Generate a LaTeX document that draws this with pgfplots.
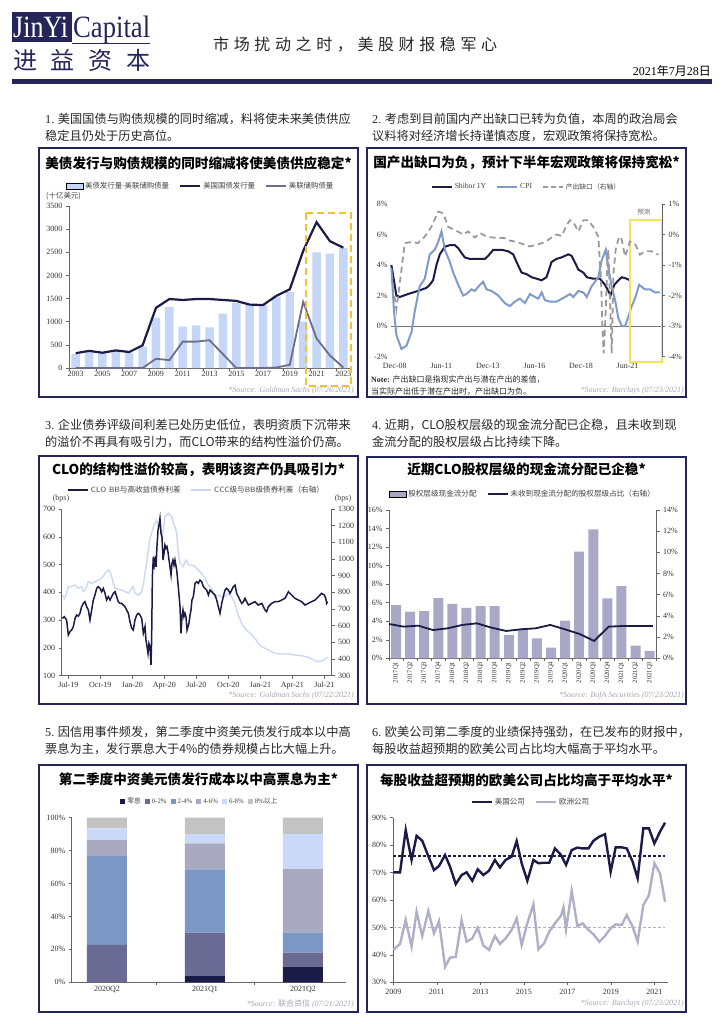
\documentclass[border=0pt]{standalone}
\usepackage{fontspec}
\setmainfont{Liberation Serif}
\newfontfamily\cjk{Noto Sans CJK SC}
\usepackage{pgfplots}
\pgfplotsset{compat=1.18}
\usepackage{graphicx}

\definecolor{navy}{HTML}{25255A}
\definecolor{dnavy}{HTML}{1B1B45}
\definecolor{barblue}{HTML}{C6D6F6}
\definecolor{fedgray}{HTML}{6E6E8C}
\definecolor{cpiblue}{HTML}{7F9BC9}
\definecolor{gapgray}{HTML}{9A9A9A}
\definecolor{lightline}{HTML}{C9D9F2}
\definecolor{barpurple}{HTML}{A9A9C7}
\definecolor{eugray}{HTML}{AFAFC7}
\definecolor{srcgray}{HTML}{A4A4B8}
\definecolor{gold}{HTML}{F2C12E}
\definecolor{yel}{HTML}{F3E25A}
\definecolor{sa}{HTML}{1B1B48}
\definecolor{sb}{HTML}{6A6A95}
\definecolor{sc}{HTML}{7B98C5}
\definecolor{sd}{HTML}{A9A9C0}
\definecolor{se}{HTML}{C9D9F7}
\definecolor{sf}{HTML}{C3C3C3}

\pgfplotsset{
  myax/.style={
    scale only axis, anchor=south west,
    tick label style={font=\fontsize{8}{9}\selectfont, text=black!80},
    /pgf/number format/assume math mode=true,
    /pgf/number format/1000 sep={},
    tick align=outside, major tick length=3pt,
    every tick/.append style={black!60, line width=0.5pt},
    axis line style={black!60, line width=0.6pt},
    legend style={draw=none, fill=none, font=\fontsize{7.6}{8}\selectfont, text=black!75,
      legend columns=-1, /tikz/every even column/.append style={column sep=8pt}, inner sep=1pt},
    legend cell align=left,
    legend image code/.code={\draw[##1] (0pt,0pt) -- (20pt,0pt);},
    clip=false,
  },
  sqleg/.style={legend image code/.code={\fill[##1] (0pt,-2.5pt) rectangle (5pt,2.5pt);}},
}

\newcommand\src[3]{\node[anchor=east, inner sep=0, text=srcgray, font=\itshape\fontsize{8}{9}\selectfont] at (#1,#2) {#3};}
\newcommand\ttl[3]{\node[inner sep=0, text=black, font=\cjk\bfseries\fontsize{13.6}{16}\selectfont] at (#1,#2) {#3};}
\newcommand\hd[3]{\node[anchor=west, inner sep=0, text=black!85, font=\cjk\fontsize{12.2}{13}\selectfont] at (#1,#2) {#3};}

\begin{document}
\begin{tikzpicture}[x=1pt,y=1pt]
\path[use as bounding box] (0,0) rectangle (724,-1024);

% ---------- header ----------
\fill[navy] (12,-12) rectangle (72,-42);
\node[anchor=base west, inner sep=0, text=white, font=\fontsize{31}{31}\selectfont] at (13,-38) {\scalebox{0.84}[1]{JinYi}};
\node[anchor=base west, inner sep=0, text=navy, font=\fontsize{31}{31}\selectfont] at (73,-38) {\scalebox{0.86}[1]{Capital}};
\draw[navy, line width=0.8pt] (72,-43) -- (150,-43);
\node[anchor=west, inner sep=0, text=navy, font=\cjk\fontsize{24}{24}\selectfont] at (13,-60) {\makebox[137pt][s]{进\hfill 益\hfill 资\hfill 本}};
\node[anchor=west, inner sep=0, text=black!85, font=\cjk\fontsize{16}{16}\selectfont] at (213,-45) {\makebox[284pt][s]{市\hfill 场\hfill 扰\hfill 动\hfill 之\hfill 时\hfill ，\hfill 美\hfill 股\hfill 财\hfill 报\hfill 稳\hfill 军\hfill 心}};
\node[anchor=east, inner sep=0, font=\fontsize{12}{12}\selectfont] at (711,-71) {2021{\cjk 年}7{\cjk 月}28{\cjk 日}};
\fill[navy] (12,-79) rectangle (712,-84);

% ---------- headings ----------
\hd{45}{-119}{{\rmfamily 1.} 美国国债与购债规模的同时缩减，料将使未来美债供应}
\hd{45}{-136}{稳定且仍处于历史高位。}
\hd{372}{-119}{{\rmfamily 2.} 考虑到目前国内产出缺口已转为负值，本周的政治局会}
\hd{372}{-136}{议料将对经济增长持谨慎态度，宏观政策将保持宽松。}
\hd{45}{-425}{{\rmfamily 3.} 企业债券评级间利差已处历史低位，表明资质下沉带来}
\hd{45}{-442}{的溢价不再具有吸引力，而CLO带来的结构性溢价仍高。}
\hd{372}{-425}{{\rmfamily 4.} 近期，CLO股权层级的现金流分配已企稳，且未收到现}
\hd{372}{-442}{金流分配的股权层级占比持续下降。}
\hd{45}{-732}{{\rmfamily 5.} 因信用事件频发，第二季度中资美元债发行成本以中高}
\hd{45}{-749}{票息为主，发行票息大于4\%的债券规模占比大幅上升。}
\hd{372}{-732}{{\rmfamily 6.} 欧美公司第二季度的业绩保持强劲，在已发布的财报中，}
\hd{372}{-749}{每股收益超预期的欧美公司占比均大幅高于平均水平。}

% ---------- boxes ----------
\draw[navy, line width=2pt] (39,-148) rectangle (358,-397);
\draw[navy, line width=2pt] (367,-148) rectangle (686,-397);
\draw[navy, line width=2pt] (39,-456) rectangle (358,-704);
\draw[navy, line width=2pt] (367,-457) rectangle (686,-704);
\draw[navy, line width=2pt] (39,-765) rectangle (358,-1011.5);
\draw[navy, line width=2pt] (367,-765) rectangle (686,-1011.5);

\ttl{198.5}{-163}{美债发行与购债规模的同时缩减将使美债供应稳定*}
\ttl{526.5}{-163}{国产出缺口为负，预计下半年宏观政策将保持宽松*}
\ttl{198.5}{-470}{CLO的结构性溢价较高，表明该资产仍具吸引力*}
\ttl{526.5}{-469}{近期CLO股权层级的现金流分配已企稳*}
\ttl{198.5}{-779}{第二季度中资美元债发行成本以中高票息为主*}
\ttl{526.5}{-780}{每股收益超预期的欧美公司占比均高于平均水平*}

% ---------- chart 1 ----------
\begin{axis}[myax, at={(69pt,-368pt)}, width=281pt, height=162pt,
  xmin=2002.5, xmax=2023.5, ymin=0, ymax=3500,
  axis x line*=bottom, axis y line*=left, xtick pos=bottom, ytick pos=left,
  ytick={0,500,...,3500},
  xtick={2002.5,2004.5,...,2022.5}, xticklabels={},
  extra x ticks={2003,2005,...,2023},
  extra x tick labels={2003,2005,2007,2009,2011,2013,2015,2017,2019,2021,2023},
  extra x tick style={major tick length=0pt},
  legend style={at={(0.5,1)}, anchor=center, yshift=20pt, xshift=-9pt, font=\cjk\fontsize{7.4}{8}\selectfont}]
\addplot[ybar, bar width=8.5pt, fill=barblue, draw=none, area legend] coordinates {
 (2003,300) (2004,350) (2005,320) (2006,370) (2007,330) (2008,460) (2009,1090) (2010,1320)
 (2011,895) (2012,920) (2013,880) (2014,1175) (2015,1410) (2016,1370) (2017,1360) (2018,1540)
 (2019,1640) (2020,1000) (2021,2500) (2022,2470) (2023,2590)};
\addlegendentry{美债发行量-美联储购债量}
\addplot[dnavy, line width=2.2pt] coordinates {
 (2003,320) (2004,370) (2005,330) (2006,380) (2007,345) (2008,490) (2009,1300) (2010,1490)
 (2011,1470) (2012,1490) (2013,1490) (2014,1470) (2015,1450) (2016,1370) (2017,1360) (2018,1560)
 (2019,1700) (2020,2530) (2021,3150) (2022,2740) (2023,2600)};
\addlegendentry{美国国债发行量}
\addplot[fedgray, line width=1.8pt] coordinates {
 (2003,0) (2004,0) (2005,0) (2006,0) (2007,0) (2008,0) (2009,200) (2010,170)
 (2011,570) (2012,570) (2013,600) (2014,300) (2015,0) (2016,0) (2017,0) (2018,10)
 (2019,70) (2020,1430) (2021,640) (2022,270) (2023,10)};
\addlegendentry{美联储购债量}
\draw[gold, line width=2pt, dash pattern=on 7pt off 4pt] (axis cs:2020.21,3350) rectangle (axis cs:2023.57,-390);
\end{axis}
\node[anchor=west, inner sep=0, text=black!75, font=\cjk\fontsize{7.4}{8}\selectfont] at (46,-196) {(十亿美元)};
\src{354}{-391}{*Source: Goldman Sachs (07/26/2021)}

% ---------- chart 2 ----------
\begin{axis}[myax, at={(391pt,-356.5pt)}, width=271pt, height=152.5pt,
  xmin=2008.72, xmax=2023.27, ymin=-2, ymax=8,
  axis x line*=bottom, axis y line*=left, xtick pos=bottom, ytick pos=left,
  axis line style={draw=none}, major tick length=0pt,
  ytick={-2,0,...,8}, yticklabels={-2\%,0\%,2\%,4\%,6\%,8\%},
  xtick={2008.92,2011.42,2013.92,2016.42,2018.92,2021.42},
  xticklabels={Dec-08,Jun-11,Dec-13,Jun-16,Dec-18,Jun-21},
  xticklabel style={yshift=-3pt},
  legend style={at={(0.5,1)}, anchor=center, yshift=17pt}]
\draw[black!55, line width=0.6pt] (axis cs:2008.72,0) -- (axis cs:2023.27,0);
\addplot[dnavy, line width=2pt] coordinates {
 (2008.74,4.0) (2009.01,2.0) (2009.19,1.9) (2009.64,2.1) (2010.17,2.3) (2010.62,2.5) (2010.80,2.7)
 (2010.98,3.0) (2011.16,4.0) (2011.34,4.7) (2011.61,5.2) (2011.88,5.3) (2012.15,5.3) (2012.33,5.1)
 (2012.50,4.8) (2012.68,4.5) (2012.95,4.4) (2013.49,4.4) (2013.76,4.4) (2013.94,4.6) (2014.21,5.0)
 (2014.65,5.0) (2015.01,4.9) (2015.28,4.7) (2015.46,4.2) (2015.73,3.5) (2016.00,3.4) (2016.27,3.2)
 (2016.54,3.1) (2016.81,3.0) (2017.07,3.2) (2017.34,4.2) (2017.61,4.4) (2017.88,4.5) (2018.24,4.7)
 (2018.42,4.6) (2018.78,3.7) (2019.05,3.5) (2019.23,3.2) (2019.58,3.1) (2019.94,3.1) (2020.21,2.7)
 (2020.51,2.0) (2020.71,2.7) (2020.93,3.0) (2021.11,3.2) (2021.38,3.1) (2021.55,3.0)};
\addlegendentry{Shibor 1Y}
\addplot[cpiblue, line width=2pt] coordinates {
 (2008.74,3.8) (2008.88,1.0) (2009.01,-0.6) (2009.28,-1.5) (2009.55,-1.3) (2009.82,-0.4) (2010.00,1.0)
 (2010.26,2.6) (2010.53,3.1) (2010.80,4.7) (2011.07,5.0) (2011.25,5.5) (2011.43,6.2) (2011.61,5.0)
 (2011.88,4.2) (2012.06,3.5) (2012.33,2.7) (2012.59,2.0) (2012.77,2.1) (2013.04,2.4) (2013.22,2.3)
 (2013.49,2.7) (2013.67,2.9) (2013.85,2.4) (2014.12,2.3) (2014.48,2.0) (2014.83,1.5) (2015.10,1.3)
 (2015.37,1.6) (2015.64,1.8) (2015.91,1.5) (2016.18,2.1) (2016.45,1.9) (2016.63,1.8) (2016.81,2.2)
 (2016.98,1.7) (2017.25,1.6) (2017.61,1.6) (2018.06,1.9) (2018.33,2.1) (2018.51,1.9) (2018.78,2.3)
 (2019.05,2.2) (2019.23,1.9) (2019.49,2.6) (2019.67,2.9) (2019.85,3.2) (2020.03,4.3) (2020.25,5.0)
 (2020.39,3.8) (2020.57,2.6) (2020.75,1.7) (2020.93,0.5) (2021.11,0.0) (2021.29,0.0) (2021.46,0.6)
 (2021.64,1.3) (2021.82,1.8) (2022.04,2.7) (2022.36,2.4) (2022.63,2.4) (2022.90,2.2) (2023.17,2.2)};
\addlegendentry{CPI}
\addlegendimage{gapgray, line width=1.8pt, dash pattern=on 5pt off 3pt}
\addlegendentry{{\cjk\fontsize{6.8}{8}\selectfont 产出缺口（右轴）}}
\draw[yel, line width=1.8pt] (axis cs:2021.55,6.95) rectangle (axis cs:2023.27,-2.36);
\node[text=black!60, font=\cjk\fontsize{6.5}{7}\selectfont] at (axis cs:2022.3,7.45) {预测};
\end{axis}
\begin{axis}[myax, at={(391pt,-356.5pt)}, width=271pt, height=152.5pt,
  xmin=2008.72, xmax=2023.27, ymin=-4, ymax=1,
  axis y line*=right, axis x line=none, ytick pos=right,
  ytick={-4,-3,...,1}, yticklabels={-4\%,-3\%,-2\%,-1\%,0\%,1\%}]
\addplot[gapgray, line width=1.8pt, dash pattern=on 6pt off 4pt] coordinates {
 (2008.83,-1.7) (2009.01,-2.45) (2009.19,-1.6) (2009.46,-0.28) (2009.82,-0.25) (2010.17,-0.28)
 (2010.53,-0.07) (2010.89,0.25) (2011.25,0.75) (2011.52,0.7) (2011.79,0.25) (2012.15,0.15)
 (2012.59,0.0) (2012.86,0.1) (2013.22,-0.1) (2013.49,0.05) (2013.85,-0.07) (2014.21,-0.1)
 (2014.83,-0.12) (2015.10,-0.2) (2015.37,-0.23) (2015.73,-0.3) (2016.18,-0.39) (2016.54,-0.34)
 (2016.98,-0.25) (2017.34,-0.1) (2017.61,0.0) (2017.88,-0.05) (2018.15,0.3) (2018.33,0.47)
 (2018.51,0.4) (2018.78,0.1) (2019.05,0.47) (2019.31,0.47) (2019.58,0.25) (2019.85,-0.07)
 (2019.99,-1.4) (2020.07,-3.0) (2020.14,-3.9) (2020.25,-2.5) (2020.34,-0.9) (2020.39,-0.5)
 (2020.48,-2.2) (2020.57,-3.9) (2020.66,-1.3) (2020.78,-0.5) (2020.93,-0.15) (2021.07,-0.07)
 (2021.29,-0.72) (2021.55,-0.23) (2021.82,-0.3) (2022.09,-0.66) (2022.36,-0.55) (2022.72,-0.55)
 (2023.08,-0.66)};
\end{axis}
\node[anchor=west, inner sep=0, text=black!85, font=\fontsize{8}{9}\selectfont] at (371,-380) {\textbf{Note:} {\cjk 产出缺口是指现实产出与潜在产出的差值，}};
\node[anchor=west, inner sep=0, text=black!85, font=\cjk\fontsize{8}{9}\selectfont] at (371,-392) {当实际产出低于潜在产出时，产出缺口为负。};
\src{684}{-391}{*Source: Barclays (07/23/2021)}

% ---------- chart 3 ----------
\begin{axis}[myax, at={(61.7pt,-675.5pt)}, width=270pt, height=166.5pt,
  xmin=-0.62, xmax=24.69, ymin=300, ymax=1300,
  axis y line*=right, axis x line=none, ytick pos=right,
  ytick={300,400,...,1300}]
\addplot[lightline, line width=1.4pt] coordinates {
 (-0.56,783) (-0.38,763) (-0.16,793) (0,834) (0.31,834) (0.63,844) (0.94,824) (1.25,834) (1.41,804)
 (1.56,814) (1.72,834) (1.88,864) (2.19,854) (2.5,864) (2.81,874) (3.13,884) (3.44,914) (3.75,934)
 (3.91,924) (4.06,894) (4.22,854) (4.38,824) (4.69,818) (5.0,814) (5.31,804) (5.63,794) (5.94,824)
 (6.09,834) (6.25,794) (6.56,783) (6.88,804) (7.03,844) (7.19,914) (7.34,974) (7.5,1054) (7.66,1124)
 (7.81,1154) (7.97,1194) (8.13,1214) (8.28,1234) (8.44,1194) (8.59,1234) (8.75,1134) (8.91,1174)
 (9.06,1254) (9.22,1264) (9.38,1274) (9.53,1264) (9.69,1254) (9.84,1214) (10.0,1194) (10.16,1154)
 (10.31,1034) (10.47,974) (10.63,964) (10.78,954) (10.94,984) (11.09,994) (11.25,964) (11.56,964)
 (11.88,954) (12.03,944) (12.19,934) (12.5,914) (12.81,884) (13.13,844) (13.44,824) (13.75,773)
 (14.06,783) (14.38,773) (14.69,773) (15.0,793) (15.31,773) (15.47,753) (15.63,733) (15.78,693)
 (15.94,663) (16.25,613) (16.56,583) (16.88,563) (17.19,543) (17.5,523) (17.81,493) (18.13,473)
 (18.44,463) (18.75,453) (19.06,443) (19.38,433) (20.0,429) (20.63,429) (21.25,423) (21.88,419)
 (22.5,409) (23.13,389) (23.44,383) (23.75,387) (24.06,399) (24.31,409)};
\end{axis}
\begin{axis}[myax, at={(61.7pt,-675.5pt)}, width=270pt, height=166.5pt,
  xmin=-0.62, xmax=24.69, ymin=100, ymax=700,
  axis x line*=bottom, axis y line*=left, xtick pos=bottom, ytick pos=left,
  ytick={100,200,...,700},
  xtick={0,3,...,24}, xticklabels={Jul-19,Oct-19,Jan-20,Apr-20,Jul-20,Oct-20,Jan-21,Apr-21,Jul-21},
  legend style={at={(0.5,1)}, anchor=center, yshift=19pt, font=\cjk\fontsize{7.6}{8}\selectfont}]
\addplot[dnavy, line width=1.5pt] coordinates {
 (-0.56,306) (-0.38,312) (-0.16,300) (0,246) (0.16,258) (0.31,264) (0.47,276) (0.63,306) (0.78,318)
 (0.94,314) (1.09,324) (1.25,348) (1.41,360) (1.56,366) (1.72,348) (1.88,336) (2.03,300) (2.19,336)
 (2.34,372) (2.5,390) (2.66,414) (2.81,420) (2.97,414) (3.13,402) (3.28,414) (3.44,396) (3.59,372)
 (3.75,384) (3.91,372) (4.06,384) (4.22,396) (4.38,402) (4.53,384) (4.69,366) (4.84,360) (5.0,360)
 (5.31,348) (5.47,336) (5.63,324) (5.78,294) (5.94,270) (6.09,264) (6.25,300) (6.41,318) (6.56,324)
 (6.72,318) (6.88,306) (7.03,252) (7.19,276) (7.28,228) (7.38,204) (7.47,180) (7.56,216) (7.66,204)
 (7.75,138) (7.81,228) (7.88,456) (7.97,528) (8.06,498) (8.13,516) (8.22,492) (8.31,564) (8.41,624)
 (8.5,642) (8.59,666) (8.69,612) (8.78,600) (8.88,516) (8.97,540) (9.06,570) (9.16,558) (9.25,564)
 (9.34,546) (9.44,516) (9.53,492) (9.63,462) (9.72,504) (9.81,516) (9.91,498) (10.0,516) (10.16,480)
 (10.31,420) (10.47,348) (10.56,252) (10.66,312) (10.75,336) (10.84,312) (10.94,324) (11.03,312)
 (11.13,264) (11.22,276) (11.31,288) (11.41,318) (11.5,336) (11.59,372) (11.72,384) (11.88,432)
 (12.03,438) (12.19,432) (12.34,444) (12.5,438) (12.66,420) (12.81,414) (12.97,408) (13.13,390)
 (13.28,408) (13.44,402) (13.59,396) (13.75,390) (13.91,372) (14.06,348) (14.22,324) (14.38,360)
 (14.53,384) (14.69,408) (14.84,414) (15.0,408) (15.16,396) (15.31,408) (15.47,420) (15.63,426)
 (15.78,396) (15.94,384) (16.09,372) (16.25,360) (16.41,366) (16.56,378) (16.72,366) (16.88,354)
 (17.19,360) (17.5,366) (17.81,354) (18.13,360) (18.44,336) (18.59,330) (18.75,348) (19.06,360)
 (19.38,366) (19.69,366) (20.0,372) (20.31,378) (20.63,402) (20.78,396) (20.94,390) (21.25,378)
 (21.56,372) (21.88,366) (22.19,354) (22.5,360) (22.81,366) (23.13,372) (23.44,384) (23.75,396)
 (24.0,390) (24.13,378) (24.22,360) (24.31,366)};
\addlegendentry{{\sffamily CLO BB}与高收益债券利差}
\addlegendimage{lightline, line width=1.4pt}
\addlegendentry{{\sffamily CCC}级与{\sffamily BB}级债券利差（右轴）}
\end{axis}
\node[text=black!75, font=\fontsize{8}{9}\selectfont] at (61,-499) {(bps)};
\node[text=black!75, font=\fontsize{8}{9}\selectfont] at (343,-499) {(bps)};
\src{354}{-696}{*Source: Goldman Sachs (07/22/2021)}

% ---------- chart 4 ----------
\begin{axis}[myax, at={(389pt,-658.3pt)}, width=267.7pt, height=148.3pt,
  xmin=-0.5, xmax=18.5, ymin=0, ymax=16,
  axis x line*=bottom, axis y line*=left, xtick pos=bottom, ytick pos=left,
  ytick={0,2,...,16}, yticklabels={0\%,2\%,4\%,6\%,8\%,10\%,12\%,14\%,16\%},
  xtick={-0.5,0.5,...,18.5}, xticklabels={},
  extra x ticks={0,1,...,18},
  extra x tick labels={2017Q1,2017Q2,2017Q3,2017Q4,2018Q1,2018Q2,2018Q3,2018Q4,2019Q1,2019Q2,2019Q3,2019Q4,2020Q1,2020Q2,2020Q3,2020Q4,2021Q1,2021Q2,2021Q3},
  extra x tick style={major tick length=0pt},
  xticklabel style={rotate=90, anchor=east, font=\fontsize{6.6}{7}\selectfont},
  legend style={at={(0.5,1)}, anchor=center, yshift=16pt, font=\cjk\fontsize{7.6}{8}\selectfont}]
\addplot[ybar, bar width=10pt, fill=barpurple, draw=none, area legend] coordinates {
 (0,5.75) (1,5.03) (2,5.1) (3,6.5) (4,5.86) (5,5.43) (6,5.64) (7,5.64) (8,2.52) (9,3.13)
 (10,2.16) (11,1.15) (12,4.06) (13,11.5) (14,13.9) (15,6.47) (16,7.8) (17,1.37) (18,0.8)};
\addlegendentry{股权层级现金流分配}
\addlegendimage{dnavy, line width=1.8pt}
\addlegendentry{未收到现金流分配的股权层级占比（右轴）}
\end{axis}
\begin{axis}[myax, at={(389pt,-658.3pt)}, width=267.7pt, height=148.3pt,
  xmin=-0.5, xmax=18.5, ymin=0, ymax=14,
  axis y line*=right, axis x line=none, ytick pos=right,
  ytick={0,2,...,14}, yticklabels={0\%,2\%,4\%,6\%,8\%,10\%,12\%,14\%}]
\addplot[dnavy, line width=1.8pt] coordinates {
 (-0.5,3.24) (0.54,2.99) (1.58,3.08) (2.62,2.67) (3.66,2.83) (4.7,3.15) (5.74,3.3) (6.78,2.89)
 (7.82,2.58) (8.86,2.74) (9.9,2.83) (10.94,3.15) (11.98,2.74) (13.02,2.3) (14.06,1.64) (15.1,2.99)
 (16.14,3.05) (17.18,3.05) (18.22,3.05)};
\end{axis}
\src{684}{-696}{*Source: BofA Securities (07/23/2021)}

% ---------- chart 5 ----------
\begin{axis}[myax, at={(71.7pt,-982.3pt)}, width=274.3pt, height=164.6pt,
  ybar stacked, bar width=40pt,
  xmin=-0.36, xmax=2.44, ymin=0, ymax=100,
  axis x line*=bottom, axis y line*=left, xtick pos=bottom, ytick pos=left,
  ytick={0,20,...,100}, yticklabels={0\%,20\%,40\%,60\%,80\%,100\%},
  xtick={0.5,1.5}, xticklabels={},
  extra x ticks={0,1,2}, extra x tick labels={2020Q2,2021Q1,2021Q2},
  extra x tick style={major tick length=0pt},
  legend style={at={(0.5,1)}, anchor=center, yshift=16pt, xshift=-9pt, font=\fontsize{6.8}{8}\selectfont,
    /tikz/every even column/.append style={column sep=2pt}}]
\addplot[fill=sa, draw=none, sqleg] coordinates {(0,0) (1,4.0) (2,9.5)};
\addlegendentry{{\cjk 零息}}
\addplot[fill=sb, draw=none, sqleg] coordinates {(0,22.7) (1,26.2) (2,8.5)};
\addlegendentry{0-2\%}
\addplot[fill=sc, draw=none, sqleg] coordinates {(0,54.0) (1,38.4) (2,12.4)};
\addlegendentry{2-4\%}
\addplot[fill=sd, draw=none, sqleg] coordinates {(0,9.7) (1,15.8) (2,38.4)};
\addlegendentry{4-6\%}
\addplot[fill=se, draw=none, sqleg] coordinates {(0,7.1) (1,5.7) (2,21.3)};
\addlegendentry{6-8\%}
\addplot[fill=sf, draw=none, sqleg] coordinates {(0,6.5) (1,9.9) (2,9.9)};
\addlegendentry{8\%{\cjk 以上}}
\end{axis}
\src{354}{-1004}{*Source: {\cjk 联合资信} (07/21/2021)}

% ---------- chart 6 ----------
\begin{axis}[myax, at={(393.3pt,-982.3pt)}, width=275pt, height=164.6pt,
  xmin=2009, xmax=2021.64, ymin=30, ymax=90,
  axis x line*=bottom, axis y line*=left, xtick pos=bottom, ytick pos=left,
  ytick={30,40,...,90}, yticklabels={30\%,40\%,50\%,60\%,70\%,80\%,90\%},
  xtick={2009,2011,...,2021},
  legend style={at={(0.5,1)}, anchor=center, yshift=16pt, font=\cjk\fontsize{7.5}{8}\selectfont}]
\addplot[dnavy, line width=2.4pt] coordinates {
 (2009.0,70.1) (2009.31,70.1) (2009.57,85.5) (2009.84,74.6) (2010.07,83.4) (2010.33,81.6) (2010.61,76.0)
 (2010.87,70.9) (2011.1,72.4) (2011.38,76.4) (2011.61,72.1) (2011.87,65.8) (2012.14,69.1) (2012.37,70.1)
 (2012.63,67.0) (2012.88,71.2) (2013.14,69.1) (2013.4,70.7) (2013.67,74.6) (2013.9,71.9) (2014.16,74.6)
 (2014.44,75.8) (2014.67,81.5) (2014.9,73.4) (2015.16,67.0) (2015.44,74.6) (2015.67,73.4) (2015.93,73.6)
 (2016.17,73.6) (2016.43,78.8) (2016.71,76.4) (2016.94,72.8) (2017.2,78.2) (2017.46,79.1) (2017.7,78.8)
 (2017.97,78.8) (2018.2,81.6) (2018.47,83.1) (2018.73,84.0) (2018.99,70.3) (2019.22,79.2) (2019.5,79.2)
 (2019.73,78.8) (2020.0,74.0) (2020.23,67.9) (2020.49,86.1) (2020.75,86.1) (2021.0,80.6) (2021.26,84.9)
 (2021.49,88.2)};
\addlegendentry{美国公司}
\addplot[eugray, line width=2.4pt] coordinates {
 (2009.0,41.8) (2009.31,44.0) (2009.57,52.7) (2009.84,43.0) (2010.07,55.7) (2010.33,46.9) (2010.61,56.0)
 (2010.87,47.9) (2011.1,52.3) (2011.38,35.7) (2011.61,39.0) (2011.87,39.3) (2012.14,52.7) (2012.37,44.8)
 (2012.63,46.0) (2012.88,49.9) (2013.14,43.4) (2013.4,41.8) (2013.67,46.9) (2013.9,44.0) (2014.16,46.0)
 (2014.44,49.1) (2014.67,53.3) (2014.9,43.6) (2015.16,51.5) (2015.44,58.5) (2015.67,42.0) (2015.93,44.2)
 (2016.17,48.5) (2016.43,51.5) (2016.71,54.3) (2016.82,57.3) (2016.94,49.3) (2017.2,63.3) (2017.46,50.5)
 (2017.7,51.5) (2017.97,49.1) (2018.2,47.5) (2018.47,44.8) (2018.73,46.9) (2018.99,49.7) (2019.22,51.1)
 (2019.5,50.9) (2019.73,54.5) (2020.0,50.3) (2020.23,44.8) (2020.49,58.1) (2020.75,61.8) (2021.0,73.4)
 (2021.26,69.7) (2021.49,59.4)};
\addlegendentry{欧洲公司}
\addplot[eugray, line width=1.3pt, dash pattern=on 3pt off 2pt, forget plot] coordinates {(2009,50) (2021.5,50)};
\addplot[dnavy, line width=1.5pt, dash pattern=on 3pt off 2pt, forget plot] coordinates {(2009,76) (2021.5,76)};
\end{axis}
\src{684}{-1004}{*Source: Barclays (07/23/2021)}

\end{tikzpicture}
\end{document}
